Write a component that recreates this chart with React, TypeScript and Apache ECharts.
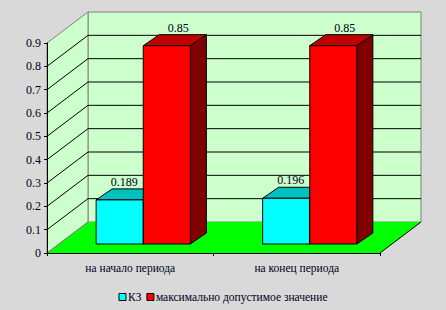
import React, { useEffect, useRef } from "react";
import * as echarts from "echarts";

const categories = ["на начало периода", "на конец периода"];
const kzValues = [0.189, 0.196];
const maxValues = [0.85, 0.85];
const seriesNames = ["КЗ", "максимально допустимое значение"];
const yTicks = [0, 0.1, 0.2, 0.3, 0.4, 0.5, 0.6, 0.7, 0.8, 0.9];

const DEPTH = [41, -31];
const BAR_FRONT = [13, -9];
const BAR_BACK = [29, -20];
const FONT = "Liberation Serif";
const TEXT = "#00001a";

export default function App() {
  const ref = useRef<HTMLDivElement>(null);
  useEffect(() => {
    const chart = echarts.init(ref.current!, null, { renderer: "svg" });

    const wallsRender = (params: any, api: any) => {
      const cs = params.coordSys;
      const v = api.value(1);
      const y = api.coord([0, v])[1];
      const x0 = cs.x;
      const x1 = cs.x + cs.width;
      const top = cs.y;
      const bottom = cs.y + cs.height;
      const [dx, dy] = DEPTH;
      const children: any[] = [];
      if (params.dataIndex === 0) {
        children.push({
          type: "rect",
          shape: { x: x0 + dx, y: top + dy, width: cs.width, height: cs.height },
          style: { fill: "#ccffcc", stroke: "#808080", lineWidth: 1 },
        });
        children.push({
          type: "polygon",
          shape: { points: [[x0, top], [x0 + dx, top + dy], [x0 + dx, bottom + dy], [x0, bottom]] },
          style: { fill: "#ccffcc", stroke: "#808080", lineWidth: 1 },
        });
        children.push({
          type: "polygon",
          shape: { points: [[x0, bottom], [x0 + dx, bottom + dy], [x1 + dx, bottom + dy], [x1, bottom]] },
          style: { fill: "#00ff00" },
        });
        children.push({
          type: "line",
          shape: { x1: x1, y1: bottom, x2: x1 + dx, y2: bottom + dy },
          style: { stroke: "#000", lineWidth: 1 },
        });
        children.push({
          type: "line",
          shape: { x1: x0, y1: bottom, x2: x0 + dx, y2: bottom + dy },
          style: { stroke: "#808080", lineWidth: 1 },
        });
      } else if (params.dataIndex < yTicks.length - 1) {
        children.push({
          type: "line",
          shape: { x1: x0, y1: y, x2: x0 + dx, y2: y + dy },
          style: { stroke: "#000", lineWidth: 1 },
        });
        children.push({
          type: "line",
          shape: { x1: x0 + dx, y1: y + dy, x2: x1 + dx, y2: y + dy },
          style: { stroke: "#000", lineWidth: 1 },
        });
      }
      return { type: "group", children };
    };

    const makeBarRender = (side: number, front: string, topC: string, sideC: string, labelDx: number) =>
      (params: any, api: any) => {
        const ci = api.value(0);
        const v = api.value(1);
        const c = api.coord([ci, v]);
        const b = api.coord([ci, 0]);
        const band = api.size([1, 0])[0];
        const w = band * 0.283;
        const xl = (side === 0 ? c[0] - w : c[0]) + BAR_FRONT[0];
        const xr = xl + w;
        const yt = c[1] + BAR_FRONT[1];
        const yb = b[1] + BAR_FRONT[1];
        const ddx = BAR_BACK[0] - BAR_FRONT[0];
        const ddy = BAR_BACK[1] - BAR_FRONT[1];
        const st = { stroke: "#000", lineWidth: 1, lineJoin: "miter" };
        return {
          type: "group",
          children: [
            {
              type: "polygon",
              shape: { points: [[xr, yt], [xr + ddx, yt + ddy], [xr + ddx, yb + ddy], [xr, yb]] },
              style: { fill: sideC, ...st },
            },
            {
              type: "polygon",
              shape: { points: [[xl, yt], [xl + ddx, yt + ddy], [xr + ddx, yt + ddy], [xr, yt]] },
              style: { fill: topC, ...st },
            },
            {
              type: "rect",
              shape: { x: xl, y: yt, width: w, height: yb - yt },
              style: { fill: front, ...st },
            },
            {
              type: "text",
              style: {
                text: String(v),
                x: (xl + xr) / 2 + labelDx,
                y: yt + ddy - 7,
                align: "center",
                verticalAlign: "middle",
                fontSize: 12,
                fontFamily: FONT,
                fill: TEXT,
              },
            },
          ],
        };
      };

    chart.setOption({
      animation: false,
      backgroundColor: "#d9d9d9",
      grid: { left: 47, right: 66, top: 43, bottom: 57 },
      legend: {
        data: seriesNames,
        bottom: 2,
        left: "center",
        icon: "rect",
        itemWidth: 7,
        itemHeight: 7,
        itemGap: 5,
        itemStyle: { borderColor: "#000", borderWidth: 1 },
        textStyle: { fontSize: 11.5, fontFamily: FONT, color: TEXT, padding: [0, 0, 0, -3] },
      },
      xAxis: {
        type: "category",
        data: categories,
        z: 10,
        axisLine: { lineStyle: { color: "#000", width: 1 } },
        axisTick: { show: true, length: 3, lineStyle: { color: "#000" } },
        axisLabel: { fontSize: 11.5, fontFamily: FONT, color: TEXT, margin: 9 },
        splitLine: { show: false },
      },
      yAxis: {
        type: "value",
        min: 0,
        max: 0.9,
        interval: 0.1,
        z: 10,
        axisLine: { show: true, lineStyle: { color: "#000", width: 1 } },
        axisTick: { show: true, length: 3, lineStyle: { color: "#000" } },
        axisLabel: { fontSize: 12, fontFamily: FONT, color: TEXT, margin: 6 },
        splitLine: { show: false },
      },
      series: [
        {
          type: "custom",
          name: "walls",
          z: 1,
          silent: true,
          renderItem: wallsRender,
          data: yTicks.map((v) => [0, v]),
          encode: { x: 0, y: 1 },
        },
        {
          type: "custom",
          name: seriesNames[0],
          z: 3,
          itemStyle: { color: "#00ffff" },
          renderItem: makeBarRender(0, "#00ffff", "#00c0c0", "#008080", 4.5),
          data: kzValues.map((v, i) => [i, v]),
          encode: { x: 0, y: 1 },
        },
        {
          type: "custom",
          name: seriesNames[1],
          z: 4,
          itemStyle: { color: "#ff0000" },
          renderItem: makeBarRender(1, "#ff0000", "#c00000", "#800000", 11.5),
          data: maxValues.map((v, i) => [i, v]),
          encode: { x: 0, y: 1 },
        },
      ],
    });
    return () => chart.dispose();
  }, []);
  return <div ref={ref} style={{ width: 446, height: 310, position: "absolute", left: 0, top: 0 }} />;
}
